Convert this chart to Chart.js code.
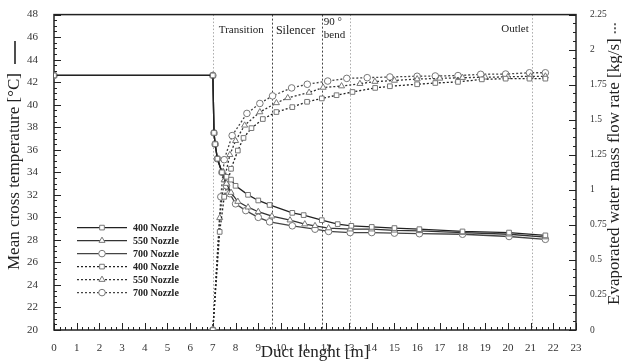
<!DOCTYPE html>
<html lang="en">
<head>
    <meta charset="UTF-8">
    <title>Duct temperature and evaporation</title>
    <script src="https://cdn.jsdelivr.net/npm/chart.js"></script>
    <style>
        body { margin: 0; background: #fff; }
        #chart { display: block; }
    </style>
</head>
<body>
    <canvas id="chart" width="622" height="363"></canvas>
    <script>
        // Mean cross temperature (solid lines, left axis)
        const t400X = [0, 7, 7.05, 7.1, 7.2, 7.4, 7.6, 7.8, 8.0, 8.55, 9.0, 9.5, 10.5, 11.0, 11.8, 12.5, 13.1, 14, 15, 16.1, 18, 20.05, 21.65];
        const t400Y = [42.6, 42.6, 37.5, 36.5, 35.2, 34.0, 33.6, 33.35, 32.8, 32.0, 31.5, 31.1, 30.4, 30.2, 29.75, 29.4, 29.25, 29.15, 29.05, 28.95, 28.75, 28.65, 28.4];
        const t550X = [0, 7, 7.05, 7.1, 7.2, 7.4, 7.6, 7.8, 8.1, 8.55, 9.0, 9.6, 10.4, 11.05, 11.5, 12.1, 13.05, 14, 15, 16.1, 18, 20.05, 21.65];
        const t550Y = [42.6, 42.6, 37.5, 36.5, 35.2, 34.0, 33.0, 32.2, 31.4, 30.9, 30.5, 30.1, 29.75, 29.4, 29.25, 29.05, 28.95, 28.95, 28.85, 28.8, 28.65, 28.5, 28.25];
        const t700X = [0, 7, 7.05, 7.1, 7.2, 7.4, 7.6, 7.75, 8.0, 8.45, 9.0, 9.5, 10.5, 11.5, 12.1, 13.05, 14, 15, 16.1, 18, 20.05, 21.65];
        const t700Y = [42.6, 42.6, 37.5, 36.5, 35.2, 34.0, 32.8, 32.1, 31.2, 30.6, 30.0, 29.6, 29.25, 28.95, 28.75, 28.65, 28.65, 28.6, 28.55, 28.5, 28.3, 28.05];

        // Evaporated water mass flow rate (dotted lines, right axis)
        const m400X = [7, 7.3, 7.5, 7.8, 8.1, 8.35, 8.7, 9.2, 9.8, 10.5, 11.15, 11.8, 12.45, 13.15, 14.15, 14.8, 16, 16.8, 17.8, 18.85, 19.9, 20.95, 21.65];
        const m400Y = [0, 0.7, 0.95, 1.15, 1.28, 1.37, 1.44, 1.505, 1.555, 1.59, 1.628, 1.652, 1.675, 1.698, 1.727, 1.739, 1.753, 1.762, 1.77, 1.788, 1.793, 1.793, 1.793];
        const m550X = [7, 7.3, 7.5, 7.75, 8.0, 8.4, 9.07, 9.8, 10.3, 11.24, 11.86, 12.67, 13.48, 14.14, 15, 16, 17, 18, 19, 20, 21, 21.65];
        const m550Y = [0, 0.8, 1.07, 1.25, 1.35, 1.46, 1.555, 1.62, 1.656, 1.694, 1.73, 1.74, 1.757, 1.772, 1.78, 1.79, 1.795, 1.8, 1.803, 1.806, 1.81, 1.81];
        const m700X = [7, 7.35, 7.5, 7.85, 8.5, 9.07, 9.63, 10.47, 11.16, 12.06, 12.9, 13.8, 14.8, 16.0, 16.8, 17.8, 18.8, 19.9, 20.95, 21.65];
        const m700Y = [0, 0.95, 1.215, 1.387, 1.545, 1.616, 1.67, 1.727, 1.753, 1.776, 1.795, 1.80, 1.805, 1.81, 1.812, 1.815, 1.824, 1.826, 1.835, 1.835];

        const seriesLabels = ['400 Nozzle', '550 Nozzle', '700 Nozzle', '400 Nozzle', '550 Nozzle', '700 Nozzle'];

        // duct sections
        const zoneLines = [7, 9.6, 11.8, 13.05, 21.05];
        const zoneDark = [false, true, true, false, false];
        const zoneLabels = ['Transition', 'Silencer', '90 °|bend', 'Outlet'];
        const zoneLabelAt = [7, 9.6, 11.8, 21.05];

        const leftTitle = 'Mean cross temperature [°C]';
        const rightTitle = 'Evaporated water mass flow rate [kg/s]';

        const serif = "'Liberation Serif', 'DejaVu Serif', serif";

        function pts(xs, ys) {
            return xs.map((x, i) => ({ x: x, y: ys[i] }));
        }

        function makeSet(label, xs, ys, style, dotted, axis, color) {
            return {
                label: label,
                data: pts(xs, ys),
                yAxisID: axis,
                borderColor: color,
                borderWidth: 1.3,
                borderDash: dotted ? [2, 2] : [],
                pointStyle: style,
                pointRadius: style === 'triangle' ? 3.5 : 3.3,
                pointBackgroundColor: '#fff',
                pointBorderColor: '#777',
                pointBorderWidth: 1,
                tension: 0,
                fill: false
            };
        }

        // inward tick marks, plot frame, section lines, axis titles
        const framePlugin = {
            id: 'frame',
            beforeDatasetsDraw(chart) {
                const c = chart.ctx;
                const a = chart.chartArea;
                const sx = chart.scales.x;
                const sl = chart.scales.yT;
                const sr = chart.scales.yM;
                c.save();

                // section lines
                zoneLines.forEach((v, i) => {
                    const px = Math.round(sx.getPixelForValue(v)) + 0.5;
                    c.strokeStyle = zoneDark[i] ? '#444' : '#aaa';
                    c.lineWidth = 1;
                    c.setLineDash(zoneDark[i] ? [2, 2] : [1.5, 2]);
                    c.beginPath();
                    c.moveTo(px, a.top);
                    c.lineTo(px, a.bottom);
                    c.stroke();
                });
                c.setLineDash([]);

                c.strokeStyle = '#222';
                c.lineWidth = 1;
                c.beginPath();
                for (let i = 0; i <= 23 * 4; i++) {
                    const px = Math.round(sx.getPixelForValue(i / 4)) + 0.5;
                    const len = i % 4 === 0 ? 7 : 3;
                    c.moveTo(px, a.bottom);
                    c.lineTo(px, a.bottom - len);
                }
                for (let i = 0; i <= 28 * 2; i++) {
                    const py = Math.round(sl.getPixelForValue(20 + i / 2)) + 0.5;
                    const len = i % 4 === 0 ? 7 : 3;
                    c.moveTo(a.left, py);
                    c.lineTo(a.left + len, py);
                }
                for (let i = 0; i <= 36; i++) {
                    const py = Math.round(sr.getPixelForValue(i / 16)) + 0.5;
                    const len = i % 4 === 0 ? 7 : 3;
                    c.moveTo(a.right, py);
                    c.lineTo(a.right - len, py);
                }
                c.stroke();

                c.lineWidth = 1.5;
                c.strokeRect(a.left, a.top, a.right - a.left, a.bottom - a.top);

                // section labels
                c.fillStyle = '#222';
                c.textBaseline = 'middle';
                zoneLabels.forEach((txt, i) => {
                    const px = sx.getPixelForValue(zoneLabelAt[i]);
                    c.font = (i === 1 ? '12px ' : '11px ') + serif;
                    if (txt === 'Outlet') {
                        c.textAlign = 'right';
                        c.fillText(txt, px - 3, a.top + 15);
                    } else if (txt.indexOf('|') >= 0) {
                        const parts = txt.split('|');
                        c.textAlign = 'left';
                        c.fillText(parts[0], px + 2, a.top + 8);
                        c.fillText(parts[1], px + 2, a.top + 21);
                    } else {
                        c.textAlign = 'left';
                        c.fillText(txt, px + (i === 0 ? 6 : 4), a.top + 16);
                    }
                });

                // axis titles, both read bottom to top
                c.font = '17px ' + serif;
                c.textAlign = 'left';
                c.textBaseline = 'middle';
                c.fillStyle = '#222';
                c.strokeStyle = '#222';

                c.save();
                c.translate(15, 270);
                c.rotate(-Math.PI / 2);
                c.fillText(leftTitle, 0, 0);
                const wl = c.measureText(leftTitle).width;
                c.lineWidth = 1.6;
                c.beginPath();
                c.moveTo(wl + 9, 0);
                c.lineTo(wl + 32, 0);
                c.stroke();
                c.restore();

                c.save();
                c.translate(615, 305);
                c.rotate(-Math.PI / 2);
                c.fillText(rightTitle, 0, 0);
                const wr = c.measureText(rightTitle).width;
                c.lineWidth = 1.4;
                c.setLineDash([2, 2]);
                c.beginPath();
                c.moveTo(wr + 5, 0);
                c.lineTo(wr + 17, 0);
                c.stroke();
                c.restore();

                c.restore();
            },
            afterDraw(chart) {
                // legend inside the plot, lower left
                const c = chart.ctx;
                const a = chart.chartArea;
                const x0 = a.left + 23;
                const y0 = a.top + 213;
                c.save();
                chart.data.datasets.forEach((ds, i) => {
                    const y = y0 + i * 13;
                    c.strokeStyle = ds.borderColor;
                    c.lineWidth = ds.borderWidth;
                    c.setLineDash(ds.borderDash);
                    c.beginPath();
                    c.moveTo(x0, y);
                    c.lineTo(x0 + 50, y);
                    c.stroke();
                    c.setLineDash([]);
                    c.fillStyle = '#fff';
                    c.strokeStyle = '#777';
                    c.lineWidth = 1;
                    Chart.helpers.drawPoint(c, { pointStyle: ds.pointStyle, radius: ds.pointRadius, borderWidth: 1 }, x0 + 25, y);
                    c.fillStyle = '#222';
                    c.font = 'bold 10px ' + serif;
                    c.textAlign = 'left';
                    c.textBaseline = 'middle';
                    c.fillText(ds.label, x0 + 56, y + 0.5);
                });
                c.restore();
            }
        };

        const ctx = document.getElementById('chart').getContext('2d');
        const chart = new Chart(ctx, {
            type: 'line',
            data: {
                datasets: [
                    makeSet(seriesLabels[0], t400X, t400Y, 'rect', false, 'yT', '#222'),
                    makeSet(seriesLabels[1], t550X, t550Y, 'triangle', false, 'yT', '#333'),
                    makeSet(seriesLabels[2], t700X, t700Y, 'circle', false, 'yT', '#444'),
                    makeSet(seriesLabels[3], m400X, m400Y, 'rect', true, 'yM', '#222'),
                    makeSet(seriesLabels[4], m550X, m550Y, 'triangle', true, 'yM', '#333'),
                    makeSet(seriesLabels[5], m700X, m700Y, 'circle', true, 'yM', '#444')
                ]
            },
            options: {
                responsive: false,
                devicePixelRatio: 1,
                animation: false,
                layout: { padding: { top: 12, left: 0, right: 0, bottom: 0 } },
                plugins: {
                    legend: { display: false },
                    tooltip: { enabled: false }
                },
                scales: {
                    x: {
                        type: 'linear',
                        min: 0,
                        max: 23,
                        grid: { display: false },
                        border: { display: false },
                        ticks: { stepSize: 1, padding: 4, color: '#333', font: { family: serif, size: 11 }, maxRotation: 0 },
                        title: { display: true, text: 'Duct lenght [m]', color: '#222', font: { family: serif, size: 17 }, padding: { top: 0, bottom: 0 } },
                        afterFit(scale) { scale.height = 33; }
                    },
                    yT: {
                        position: 'left',
                        min: 20,
                        max: 48,
                        grid: { display: false },
                        border: { display: false },
                        ticks: { stepSize: 2, padding: 8, color: '#333', font: { family: serif, size: 11 } },
                        afterFit(scale) { scale.width = 54; }
                    },
                    yM: {
                        position: 'right',
                        min: 0,
                        max: 2.25,
                        grid: { display: false },
                        border: { display: false },
                        ticks: {
                            stepSize: 0.25,
                            padding: 6,
                            color: '#333',
                            font: { family: serif, size: 9.5 },
                            callback: (v) => String(Math.round(v * 100) / 100)
                        },
                        afterFit(scale) { scale.width = 46; }
                    }
                }
            },
            plugins: [framePlugin]
        });
    </script>
</body>
</html>
